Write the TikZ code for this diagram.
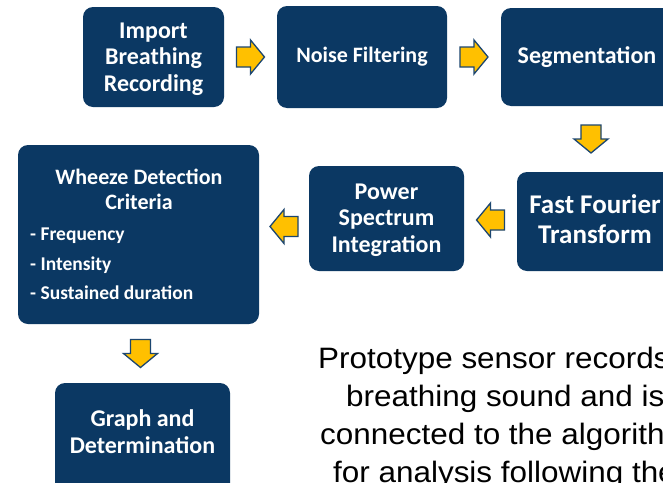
\documentclass[tikz,border=0pt]{standalone}
\usepackage{fontspec}
\setmainfont{Carlito}
\newfontfamily\bodyfont{Liberation Sans}
\usetikzlibrary{calc}
\definecolor{navy}{RGB}{11,56,99}
\definecolor{amber}{RGB}{255,192,0}
\definecolor{arrowedge}{RGB}{28,70,112}

\begin{document}
\begin{tikzpicture}[x=1pt,y=-1pt,
  box/.style={fill=navy, rounded corners=10pt, inner sep=0pt, draw=none},
  boxtext/.style={text=white, align=center, inner sep=0pt},
  desc/.style={anchor=base west, inner sep=0pt, font=\bodyfont\fontsize{29.5}{38}\selectfont},
  blockarrow/.pic={
    \filldraw[fill=amber, draw=arrowedge, line width=1.3pt, line join=miter]
      (-14,-10) -- (0,-10) -- (0,-17) -- (14,0) -- (0,17) -- (0,10) -- (-14,10) -- cycle;}
]
\useasboundingbox (0,0) rectangle (663,482);
\fill[white] (0,0) rectangle (663,482);
\clip (0,0) rectangle (663,482);

% process boxes
\node[box, minimum width=141pt, minimum height=100pt] (imp) at (153.5,57) {};
\node[box, minimum width=170pt, minimum height=102pt] (noise) at (362,57) {};
\node[box, minimum width=172pt, minimum height=98pt] (seg) at (587,57) {};
\node[box, minimum width=156pt, minimum height=99pt] (fft) at (595,221.5) {};
\node[box, minimum width=155pt, minimum height=105pt] (ps) at (386.5,218.5) {};
\node[box, minimum width=241pt, minimum height=179pt] (wz) at (138.5,234.5) {};
\node[box, minimum width=175pt, minimum height=110pt] (gr) at (142.5,438) {};

% box labels
\node[boxtext, font=\bfseries\fontsize{24}{26.5}\selectfont] (impT) at (153.5,59) {Import\\Breathing\\Recording};
\node[boxtext, font=\bfseries\fontsize{22}{26}\selectfont] (noiseT) at (362,57) {Noise Filtering};
\node[boxtext, font=\bfseries\fontsize{24}{28}\selectfont] (segT) at (587,57) {Segmentation};
\node[boxtext, font=\bfseries\fontsize{27}{29.5}\selectfont] (fftT) at (595,219) {Fast Fourier\\Transform};
\node[boxtext, font=\bfseries\fontsize{24}{26.5}\selectfont] (psT) at (386.5,220) {Power\\Spectrum\\Integration};
\node[boxtext, font=\bfseries\fontsize{22}{25}\selectfont] (wzT) at (139,189) {Wheeze Detection\\Criteria};
\node[boxtext, align=left, anchor=west, font=\bfseries\fontsize{19.5}{29.5}\selectfont] (wzL) at (30,264) {- Frequency\\- Intensity\\- Sustained duration};
\node[boxtext, font=\bfseries\fontsize{24}{27}\selectfont] (grT) at (142.5,431.5) {Graph and\\Determination};

% block arrows between steps
\pic at ($(imp.east)!.5!(noise.west)$) {blockarrow};
\pic at ($(noise.east)!.5!(seg.west)$) {blockarrow};
\pic[rotate=-90] at ($(seg.south)!.5!(fft.north)$) {blockarrow};
\pic[rotate=180] at ($(fft.west)!.5!(ps.east)$) {blockarrow};
\pic[rotate=180] at ($(ps.west)!.5!(wz.east)$) {blockarrow};
\pic[rotate=-90] at ($(wz.south)!.5!(gr.north)$) {blockarrow};

% description
\node[desc] (d1) at (318,368.5) {\scalebox{1.066}[1]{Prototype sensor records}};
\node[desc] (d2) at (346,406.5) {\scalebox{1.066}[1]{breathing sound and is}};
\node[desc] (d3) at (320,444.5) {\scalebox{1.066}[1]{connected to the algorithm}};
\node[desc] (d4) at (333,482.5) {\scalebox{1.066}[1]{for analysis following the}};
\end{tikzpicture}
\end{document}
